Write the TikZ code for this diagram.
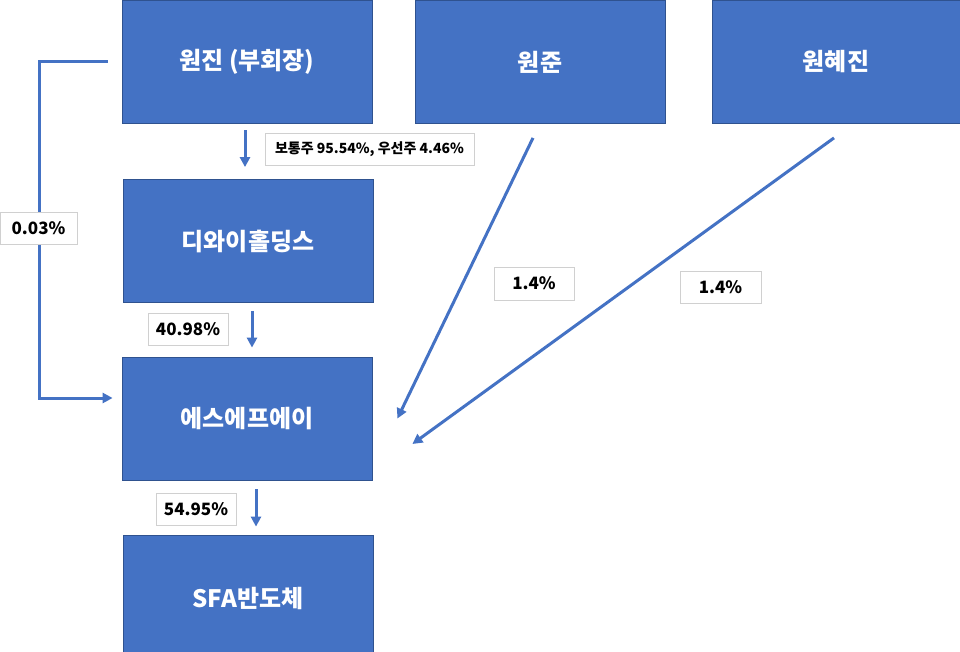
\documentclass[tikz,border=0pt]{standalone}
\usepackage{fontspec}
\setmainfont{Noto Sans CJK KR}
\usetikzlibrary{arrows.meta}
\definecolor{boxblue}{HTML}{4472C4}
\definecolor{boxline}{HTML}{2F528F}
\definecolor{lblline}{HTML}{D0D0D0}
\tikzset{
  owner/.style={draw=boxline, fill=boxblue, line width=0.8pt, minimum width=250pt, minimum height=123pt, inner sep=0pt, text=white, font=\fontsize{24}{28}\selectfont\bfseries},
  share/.style={draw=lblline, fill=white, line width=0.8pt, minimum width=80pt, minimum height=32pt, inner sep=0pt, font=\fontsize{17}{20}\selectfont\bfseries},
  own/.style={draw=boxblue, line width=3pt, -{Triangle[length=10pt,width=10pt]}}
}
\begin{document}
\begin{tikzpicture}[x=1pt,y=-1pt]
\useasboundingbox (0,0) rectangle (960,652);
\clip (0,0) rectangle (960,652);

\node[owner] (wonjin) at (247,61.5) {원진 (부회장)};
\node[owner] (wonjun) at (540,62) {원준};
\node[owner, minimum width=248pt] (hyejin) at (836,62) {원혜진};
\node[owner] (dyhold) at (248,241) {디와이홀딩스};
\node[owner] (sfa) at (247,418.5) {에스에프에이};
\node[owner, minimum height=126pt] (sfasemi) at (248,598) {SFA반도체};

\draw[own] ([xshift=-2pt,yshift=-7pt]wonjin.south) -- ([xshift=-3pt,yshift=12pt]dyhold.north);
\draw[own] ([xshift=4pt,yshift=-8pt]dyhold.south) -- ([xshift=5pt,yshift=9pt]sfa.north);
\draw[own] ([xshift=9pt,yshift=-9pt]sfa.south) -- ([xshift=8pt,yshift=8pt]sfasemi.north);
\draw[own] ([xshift=-14pt]wonjin.west) -- ++(-68,0) |- ([xshift=-9pt,yshift=20.5pt]sfa.west);
\draw[own] ([xshift=-7pt,yshift=-14pt]wonjun.south) -- ([xshift=25pt]sfa.east);
\draw[own] ([xshift=-2pt,yshift=-14pt]hyejin.south) -- ([xshift=40pt,yshift=-25.5pt]sfa.east);

\node[share, minimum width=209pt, font=\fontsize{14}{17}\selectfont\bfseries] (common) at (369.5,149) {보통주 95.54\%, 우선주 4.46\%};
\node[share, minimum width=77pt] (direct) at (38.5,228) {0.03\%};
\node[share] (dyshare) at (188,329) {40.98\%};
\node[share] (sfashare) at (196,509) {54.95\%};
\node[share, minimum height=33pt] (junshare) at (534,283.5) {1.4\%};
\node[share, minimum width=81pt] (hyeshare) at (720.5,287) {1.4\%};
\end{tikzpicture}
\end{document}
